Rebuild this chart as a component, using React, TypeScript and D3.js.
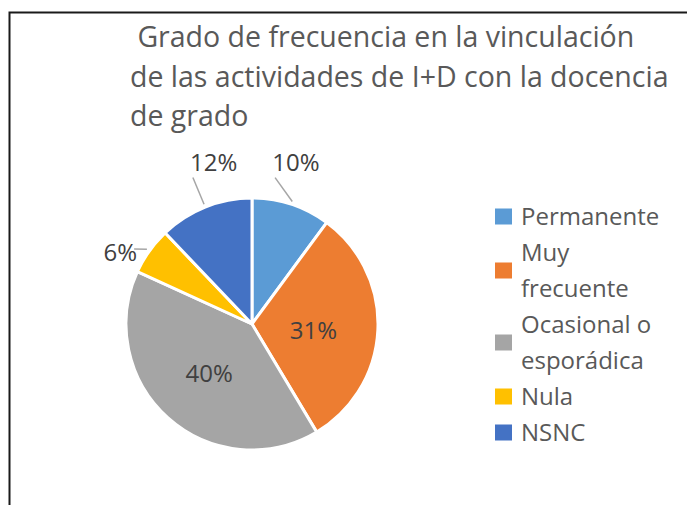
import React from "react";
import * as d3 from "d3";

const categories = ["Permanente", "Muy frecuente", "Ocasional o esporádica", "Nula", "NSNC"];
const values = [10, 31, 40, 6, 12];
const percentLabels = ["10%", "31%", "40%", "6%", "12%"];
const legendLines = [["Permanente"], ["Muy", "frecuente"], ["Ocasional o", "esporádica"], ["Nula"], ["NSNC"]];
const titleLines = [" Grado de frecuencia en la vinculación", "de las actividades de I+D con la docencia", "de grado"];

const colors = ["#5B9BD5", "#ED7D31", "#A5A5A5", "#FFC000", "#4472C4"];
// label placement: inside (fraction of radius) or outside (radius factor, angle shift in degrees, leader anchor)
const labelPlacement = [
  { inside: false, rf: 1.33, dAng: -3, anchor: "bottomLeft" },
  { inside: true, rf: 0.49, dAng: 3, anchor: "" },
  { inside: true, rf: 0.52, dAng: -1, anchor: "" },
  { inside: false, rf: 1.19, dAng: -7, anchor: "right" },
  { inside: false, rf: 1.32, dAng: 8.5, anchor: "bottomLeft" },
];

const W = 687;
const H = 505;
const FONT = "'Open Sans', 'DejaVu Sans', sans-serif";

function textWidth(t: string, fs: number) {
  let w = 0;
  for (const ch of t) w += ch === "%" ? 0.84 : 0.572;
  return w * fs;
}

export default function App() {
  const cx = 252;
  const cy = 324;
  const r = 126;
  const pie = d3.pie<number>().sort(null).value((d) => d);
  const arcs = pie(values);
  const arc = d3.arc<d3.PieArcDatum<number>>().innerRadius(0).outerRadius(r);
  const labelFont = 24;

  const polar = (ang: number, rad: number) => [Math.sin(ang) * rad, -Math.cos(ang) * rad];

  const legendX = 495;
  const legendTextX = 521;
  const lineH = 36;
  let ly = 225;
  const legendItems = legendLines.map((lines, i) => {
    const firstBase = ly;
    const item = { lines, firstBase, i };
    ly += lines.length * lineH;
    return item;
  });

  return (
    <svg width={W} height={H} style={{ position: "absolute", left: 0, top: 0, background: "#fff" }}>
      <rect x={0} y={0} width={W} height={H} fill="#fff" />
      <path d={`M9.5,${H} L9.5,12.5 L${W},12.5`} fill="none" stroke="#1a1a1a" strokeWidth={2} />
      <g fontFamily={FONT} fill="#595959" fontSize={28.5}>
        {titleLines.map((t, i) => (
          <text key={i} x={130} y={47 + i * 39.5} style={{ whiteSpace: "pre" }}>
            {t}
          </text>
        ))}
      </g>
      <g transform={`translate(${cx},${cy})`}>
        {arcs.map((a, i) => (
          <path key={i} d={arc(a) || ""} fill={colors[i]} stroke="#fff" strokeWidth={3} strokeLinejoin="round" />
        ))}
        {arcs.map((a, i) => {
          const p = labelPlacement[i];
          const mid = (a.startAngle + a.endAngle) / 2;
          const ang = mid + (p.dAng * Math.PI) / 180;
          const [lx, ly2] = polar(ang, p.rf * r);
          const txt = percentLabels[i];
          if (p.inside) {
            return (
              <text key={i} x={lx} y={ly2} dy="0.35em" textAnchor="middle" fontFamily={FONT} fontSize={labelFont} fill="#404040">
                {txt}
              </text>
            );
          }
          const tw = textWidth(txt, labelFont);
          const baseline = ly2 + 0.35 * labelFont;
          const [sx, sy] = polar(mid, r + 3);
          let ex: number, ey: number;
          if (p.anchor === "bottomLeft") {
            ex = lx - tw / 2 + 3;
            ey = baseline + 7;
          } else {
            ex = lx + tw / 2 - 3;
            ey = baseline - 12;
          }
          return (
            <g key={i}>
              <line x1={sx} y1={sy} x2={ex} y2={ey} stroke="#A6A6A6" strokeWidth={1.5} />
              <text x={lx} y={ly2} dy="0.35em" textAnchor="middle" fontFamily={FONT} fontSize={labelFont} fill="#404040">
                {txt}
              </text>
            </g>
          );
        })}
      </g>
      <g fontFamily={FONT} fontSize={24} fill="#595959">
        {legendItems.map(({ lines, firstBase, i }) => {
          const n = lines.length;
          const sqCenter = firstBase - 8.5 + ((n - 1) * lineH) / 2;
          return (
            <g key={i}>
              <rect x={legendX} y={sqCenter - 8} width={17} height={16} fill={colors[i]} />
              {lines.map((l, j) => (
                <text key={j} x={legendTextX} y={firstBase + j * lineH}>
                  {l}
                </text>
              ))}
            </g>
          );
        })}
      </g>
    </svg>
  );
}
